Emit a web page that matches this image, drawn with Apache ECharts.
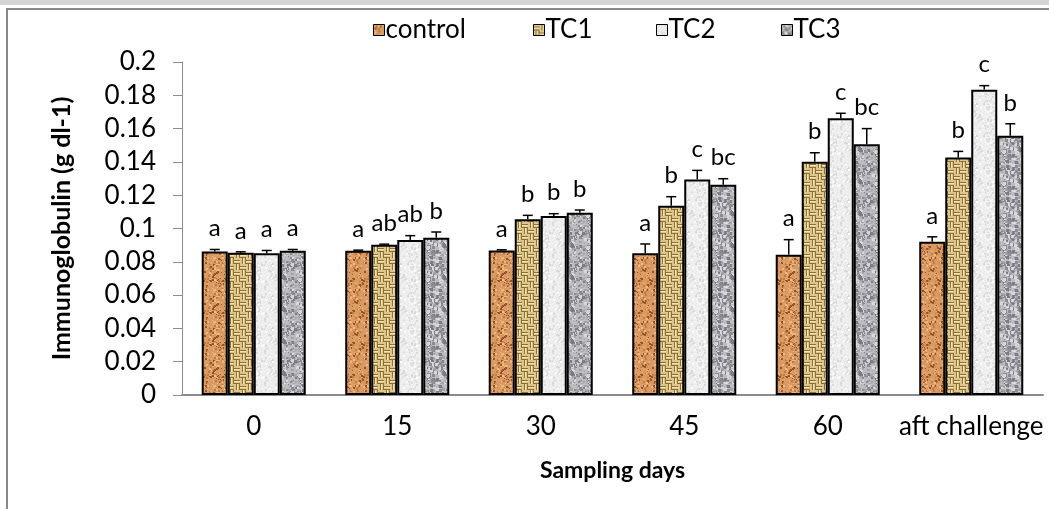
<!DOCTYPE html>
<html>
<head>
<meta charset="utf-8">
<script src="https://cdn.jsdelivr.net/npm/echarts@6/dist/echarts.min.js"></script>
<style>
  html, body { margin: 0; padding: 0; background: #fff; }
  #chart { width: 1049px; height: 509px; }
</style>
</head>
<body>
<div id="chart"></div>
<script>
// sampling days on the x axis
var days = ['0', '15', '30', '45', '60', 'aft challenge'];

// immunoglobulin means (g dl-1)
var control = [0.0862, 0.0866, 0.0868, 0.0851, 0.0843, 0.0920];
var tc1     = [0.0855, 0.0902, 0.1055, 0.1137, 0.1401, 0.1427];
var tc2     = [0.0852, 0.0931, 0.1075, 0.1295, 0.1662, 0.1834];
var tc3     = [0.0866, 0.0945, 0.1095, 0.1263, 0.1506, 0.1557];

// error bar heights
var controlErr = [0.0012, 0.0004, 0.0004, 0.0056, 0.0090, 0.0030];
var tc1Err     = [0.0005, 0.0004, 0.0024, 0.0054, 0.0054, 0.0036];
var tc2Err     = [0.0016, 0.0026, 0.0014, 0.0054, 0.0030, 0.0024];
var tc3Err     = [0.0008, 0.0034, 0.0016, 0.0036, 0.0094, 0.0072];

// significance letters
var controlSig = ['a', 'a', 'a', 'a', 'a', 'a'];
var tc1Sig     = ['a', 'ab', 'b', 'b', 'b', 'b'];
var tc2Sig     = ['a', 'ab', 'b', 'c', 'c', 'c'];
var tc3Sig     = ['a', 'b', 'b', 'bc', 'bc', 'b'];

var catGap = 0.275;
var FONT = 'Lato';

// small seeded generator, only used for the fill textures
function seeded(seed) {
    return function () {
        seed = (seed * 16807) % 2147483647;
        return seed / 2147483647;
    };
}

function speckle(base, dots, count, maxSize, seed) {
    var c = document.createElement('canvas');
    c.width = c.height = 32;
    var ctx = c.getContext('2d');
    ctx.fillStyle = base;
    ctx.fillRect(0, 0, 32, 32);
    var r = seeded(seed);
    for (var i = 0; i < count; i++) {
        ctx.fillStyle = dots[i % dots.length];
        var s = 1 + Math.floor(r() * maxSize);
        ctx.fillRect(Math.floor(r() * 32), Math.floor(r() * 32), s, s);
    }
    return c;
}

function weave() {
    var c = document.createElement('canvas');
    c.width = c.height = 12;
    var ctx = c.getContext('2d');
    ctx.fillStyle = '#dcc68c';
    ctx.fillRect(0, 0, 12, 12);
    ctx.fillStyle = '#8c7038';
    // horizontal dashes in two cells, vertical in the others
    ctx.fillRect(0, 2, 6, 1);
    ctx.fillRect(0, 5, 6, 1);
    ctx.fillRect(8, 0, 1, 6);
    ctx.fillRect(11, 0, 1, 6);
    ctx.fillRect(6, 8, 6, 1);
    ctx.fillRect(6, 11, 6, 1);
    ctx.fillRect(2, 6, 1, 6);
    ctx.fillRect(5, 6, 1, 6);
    ctx.fillStyle = '#f6e6aa';
    ctx.fillRect(0, 3, 6, 1);
    ctx.fillRect(9, 0, 1, 6);
    ctx.fillRect(6, 9, 6, 1);
    ctx.fillRect(3, 6, 1, 6);
    return c;
}

var fills = [
    speckle('#d99a62', ['#c07a44', '#ebb880', '#9a5228', '#e2a670'], 200, 2, 7),
    weave(),
    speckle('#eeeeee', ['#e2e2e2', '#fafafa', '#dadada'], 180, 2, 11),
    speckle('#bdbdc1', ['#8c8c93', '#d8d8dc', '#a4a4aa', '#7c7c84'], 240, 3, 23)
];

var names = ['control', 'TC1', 'TC2', 'TC3'];
var values = [control, tc1, tc2, tc3];
var errs = [controlErr, tc1Err, tc2Err, tc3Err];
var sigs = [controlSig, tc1Sig, tc2Sig, tc3Sig];

var series = [];
names.forEach(function (n, k) {
    series.push({
        name: n,
        type: 'bar',
        barGap: '0%',
        barCategoryGap: (catGap * 100) + '%',
        data: values[k],
        itemStyle: {
            color: { image: fills[k], repeat: 'repeat' },
            borderColor: '#000',
            borderWidth: 2
        }
    });
});

names.forEach(function (n, k) {
    series.push({
        name: n + ' err',
        type: 'custom',
        z: 5,
        data: values[k].map(function (v, i) { return [i, v, errs[k][i]]; }),
        encode: { x: 0, y: 1 },
        renderItem: function (params, api) {
            var i = api.value(0);
            var v = api.value(1);
            var e = api.value(2);
            var band = api.size([1, 0])[0];
            var bw = band * (1 - catGap) / 4;
            var p = api.coord([i, v]);
            var q = api.coord([i, v + e]);
            var x = p[0] + (k - 1.5) * bw;
            var st = { stroke: '#000', lineWidth: 1.5 };
            return {
                type: 'group',
                children: [
                    { type: 'line', shape: { x1: x, y1: p[1], x2: x, y2: q[1] }, style: st },
                    { type: 'line', shape: { x1: x - 5, y1: q[1], x2: x + 5, y2: q[1] }, style: st },
                    {
                        type: 'text',
                        style: {
                            text: sigs[k][params.dataIndex],
                            x: x, y: q[1] - 21,
                            textAlign: 'center', textVerticalAlign: 'middle',
                            font: '24px ' + FONT, fill: '#000'
                        }
                    }
                ]
            };
        }
    });
});

var legendLeft = [368, 528, 651, 776];
var legends = names.map(function (n, k) {
    return {
        data: [n],
        left: legendLeft[k],
        top: 12,
        icon: 'rect',
        itemWidth: 11,
        itemHeight: 11,
        itemStyle: { borderColor: '#000', borderWidth: 1 },
        textStyle: { fontFamily: FONT, fontSize: 26, color: '#000', padding: [0, 0, 0, -4] },
        selectedMode: false
    };
});

var myChart = echarts.init(document.getElementById('chart'));
var option = {
    animation: false,
    backgroundColor: '#fff',
    legend: legends,
    grid: { left: 182, right: 6, top: 62, bottom: 114 },
    xAxis: {
        type: 'category',
        data: days,
        name: 'Sampling days',
        nameLocation: 'middle',
        nameGap: 64,
        nameTextStyle: { fontFamily: FONT, fontSize: 23, fontWeight: 'bold', color: '#000' },
        axisLine: { lineStyle: { color: '#8c8c8c', width: 2 } },
        axisTick: { show: false },
        axisLabel: { interval: 0, fontFamily: FONT, fontSize: 26, color: '#000', margin: 19 }
    },
    yAxis: {
        type: 'value',
        min: 0,
        max: 0.2,
        interval: 0.02,
        name: 'Immunoglobulin (g dl-1)',
        nameLocation: 'middle',
        nameGap: 108,
        nameTextStyle: { fontFamily: FONT, fontSize: 25, fontWeight: 'bold', color: '#000' },
        axisLine: { show: true, lineStyle: { color: '#8c8c8c', width: 1 } },
        axisTick: { show: true, inside: false, length: 9, lineStyle: { color: '#8c8c8c' } },
        splitLine: { show: false },
        axisLabel: {
            fontFamily: FONT, fontSize: 26, color: '#000', margin: 26,
            formatter: function (v) { return String(+v.toFixed(2)); }
        }
    },
    graphic: [
        { type: 'rect', shape: { x: 0, y: 0, width: 1049, height: 5 }, style: { fill: '#d4d4d4' } },
        { type: 'line', shape: { x1: 7, y1: 9, x2: 1049, y2: 9 }, style: { stroke: '#888', lineWidth: 2 } },
        { type: 'line', shape: { x1: 7, y1: 8, x2: 7, y2: 509 }, style: { stroke: '#888', lineWidth: 2 } }
    ],
    series: series
};

if (option && typeof option === 'object') {
    myChart.setOption(option, true);
}
</script>
</body>
</html>
